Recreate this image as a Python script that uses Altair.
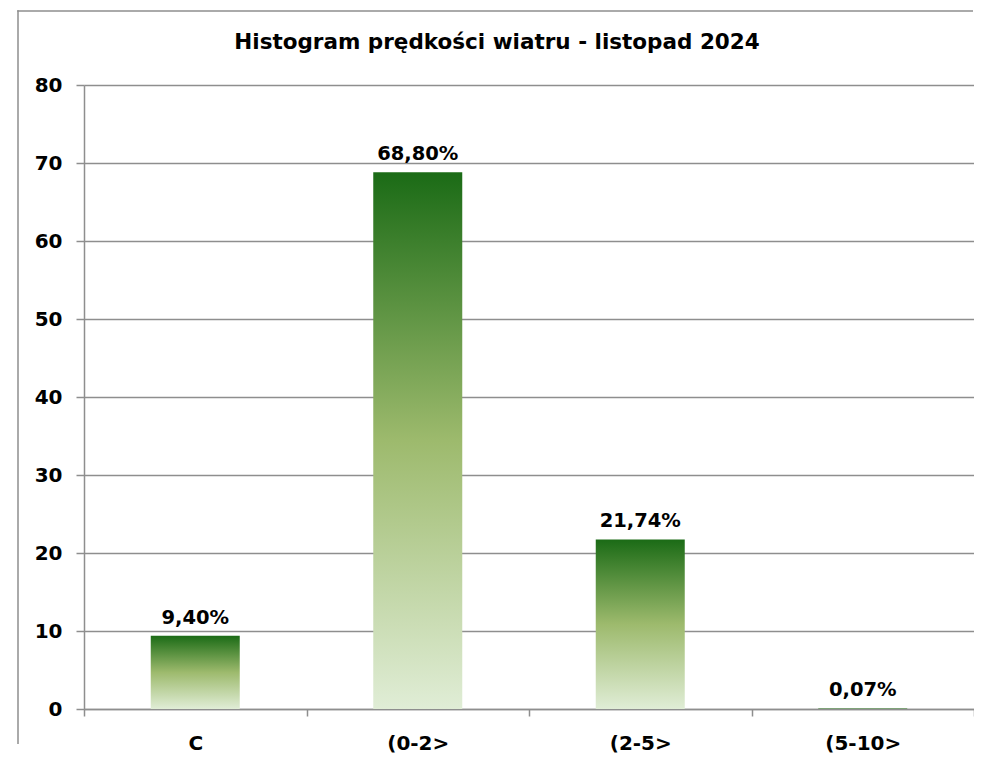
import altair as alt
import pandas as pd

categories = ["C", "(0-2>", "(2-5>", "(5-10>"]
values = [9.40, 68.80, 21.74, 0.07]
labels = ["9,40%", "68,80%", "21,74%", "0,07%"]
title_text = "Histogram prędkości wiatru - listopad 2024"

df = pd.DataFrame({"cat": categories, "val": values, "lab": labels})

FONT = "DejaVu Sans"
GRAY = "#8e8e8e"

x_enc = alt.X(
    "cat:N", sort=categories, title=None,
    scale=alt.Scale(paddingInner=0, paddingOuter=0),
    axis=alt.Axis(labelAngle=0, tickBand="extent", tickSize=7, labelPadding=17,
                  domainColor=GRAY, tickColor=GRAY, domainWidth=1.5, tickWidth=1.5,
                  labelFont=FONT, labelFontSize=20, labelFontWeight="bold",
                  labelColor="#000000", grid=False),
)
y_enc = alt.Y(
    "val:Q", title=None,
    scale=alt.Scale(domain=[0, 80], nice=False),
    axis=alt.Axis(values=[0, 10, 20, 30, 40, 50, 60, 70, 80], tickSize=8, labelPadding=14,
                  domainColor=GRAY, tickColor=GRAY, domainWidth=1.5, tickWidth=1.5,
                  gridColor=GRAY, gridWidth=1.5, grid=True,
                  labelFont=FONT, labelFontSize=20, labelFontWeight="bold",
                  labelColor="#000000"),
)

gradient = alt.Gradient(
    gradient="linear",
    stops=[
        alt.GradientStop(color="#1b6b16", offset=0),
        alt.GradientStop(color="#9dba6d", offset=0.5),
        alt.GradientStop(color="#e0edd6", offset=1),
    ],
    x1=1, x2=1, y1=0, y2=1,
)

bars = alt.Chart(df).mark_bar(width={"band": 0.4}, color=gradient).encode(x=x_enc, y=y_enc)

texts = alt.Chart(df).mark_text(
    baseline="bottom", dy=-8, font=FONT, fontSize=19.5, fontWeight="bold", color="#000000"
).encode(x=alt.X("cat:N", sort=categories), y="val:Q", text="lab:N")

one = alt.Data(values=[{"t": title_text}])

frame_top = alt.Chart(one).mark_rect(fill=GRAY, strokeWidth=0).encode(
    x=alt.value(-66.75), x2=alt.value(889), y=alt.value(-74.75), y2=alt.value(-73.25)
)
frame_left = alt.Chart(one).mark_rect(fill=GRAY, strokeWidth=0).encode(
    x=alt.value(-66.75), x2=alt.value(-65.25), y=alt.value(-74.75), y2=alt.value(659)
)
title = alt.Chart(one).mark_text(
    font=FONT, fontSize=21.5, fontWeight="bold", color="#000000",
    align="center", baseline="alphabetic"
).encode(x=alt.value(413), y=alt.value(-36), text="t:N")

chart = alt.layer(frame_top, frame_left, bars, texts, title).properties(
    width=890, height=624,
    autosize=alt.AutoSizeParams(type="none"),
    padding={"left": 76, "top": 77, "right": 0, "bottom": 44},
).configure_view(stroke=None)

chart.save("out.html", embed_options={"renderer": "svg", "actions": False})
